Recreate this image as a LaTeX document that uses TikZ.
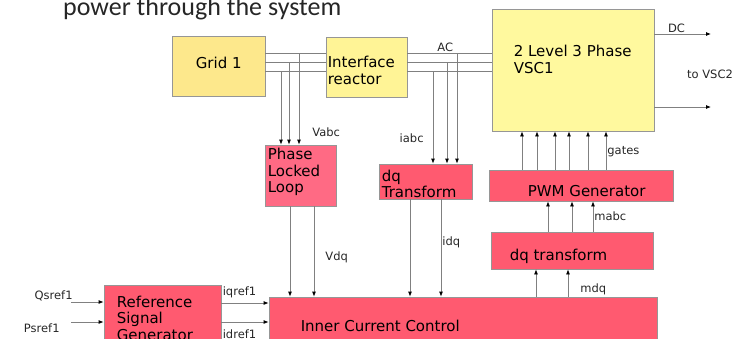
\documentclass[tikz,border=0pt]{standalone}
\usepackage{fontspec}
\setmainfont{DejaVu Sans}
\newfontfamily\titlefont{Carlito}
\usetikzlibrary{arrows.meta}

\definecolor{gridyellow}{RGB}{253,232,140}
\definecolor{reactoryellow}{RGB}{255,244,150}
\definecolor{vscyellow}{RGB}{255,249,158}
\definecolor{pllpink}{RGB}{255,106,132}
\definecolor{ctrlred}{RGB}{255,90,112}
\definecolor{wiregray}{RGB}{128,128,128}
\definecolor{edgegray}{RGB}{150,150,150}

\begin{document}
\begin{tikzpicture}[x=1pt, y=-1pt,
    block/.style={rectangle, draw=edgegray, line width=0.8pt, inner sep=0pt},
    caption/.style={font=\fontsize{15}{16.5}\selectfont, align=left, inner sep=0pt, anchor=north west},
    lbl/.style={font=\fontsize{11.5}{13}\selectfont, inner sep=1pt, text=black!85},
    wire/.style={draw=wiregray, line width=0.8pt},
    sig/.style={wire, -{Latex[length=5pt, width=4pt, color=black]}}]
    \useasboundingbox (0,0) rectangle (736,338);

    \node[font=\titlefont\fontsize{26}{30}\selectfont, anchor=base west, inner sep=0pt, text=black!85] (title) at (63,15) {power through the system};

    % power stage
    \node[block, fill=gridyellow, minimum width=93pt, minimum height=60pt,
        label={[caption, xshift=24pt, yshift=-21.3pt]north west:Grid 1}] (grid) at (218.5,66) {};
    \node[block, fill=reactoryellow, minimum width=81pt, minimum height=60pt,
        label={[caption, xshift=2pt, yshift=-19.5pt]north west:Interface\\reactor}] (iface) at (366.5,67) {};
    \node[block, fill=vscyellow, minimum width=162pt, minimum height=122pt,
        label={[caption, xshift=22pt, yshift=-36.7pt]north west:2 Level 3 Phase\\VSC1}] (vsc) at (573,70) {};

    % control stage
    \node[block, fill=pllpink, minimum width=71pt, minimum height=61pt,
        label={[caption, xshift=3pt, yshift=-3.3pt]north west:Phase\\Locked\\Loop}] (pll) at (300.5,175.5) {};
    \node[block, fill=ctrlred, minimum width=93pt, minimum height=35pt,
        label={[caption, xshift=3pt, yshift=-6pt]north west:dq\\Transform}] (dqt) at (425.5,181.5) {};
    \node[block, fill=ctrlred, minimum width=184pt, minimum height=31pt,
        label={[caption, xshift=39pt, yshift=-15.7pt]north west:PWM Generator}] (pwm) at (581,185.5) {};
    \node[block, fill=ctrlred, minimum width=162pt, minimum height=37pt,
        label={[caption, xshift=19pt, yshift=-17pt]north west:dq transform}] (dqtinv) at (572,250.5) {};
    \node[block, fill=ctrlred, minimum width=388pt, minimum height=58pt,
        label={[caption, xshift=32pt, yshift=-23.7pt]north west:Inner Current Control}] (icc) at (463,326) {};
    \node[block, fill=ctrlred, minimum width=117pt, minimum height=66pt,
        label={[caption, xshift=13pt, yshift=-11pt]north west:Reference\\Signal\\Generator}] (rsg) at (162.5,318) {};

    % three phase lines
    \coordinate (pa) at (0,53);
    \coordinate (pb) at (0,62);
    \coordinate (pc) at (0,71);
    \foreach \p in {pa,pb,pc} {
        \draw[wire] (grid.east |- \p) -- (iface.west |- \p);
        \draw[wire] (iface.east |- \p) -- (vsc.west |- \p);
    }
    \path (iface.east |- pa) -- node[lbl, pos=.45, above] {AC} (vsc.west |- pa);

    % measurements
    \draw[sig] (281,0 |- pc) -- (281,0 |- pll.north);
    \draw[sig] (289,0 |- pb) -- (289,0 |- pll.north);
    \draw[sig] (299,0 |- pa) -- node[lbl, pos=.87, anchor=west, xshift=12pt] {Vabc} (299,0 |- pll.north);
    \draw[sig] (433,0 |- pc) -- node[lbl, pos=.73, anchor=east, xshift=-8pt] {iabc} (433,0 |- dqt.north);
    \draw[sig] (447,0 |- pb) -- (447,0 |- dqt.north);
    \draw[sig] (457,0 |- pa) -- (457,0 |- dqt.north);

    % dc side
    \coordinate (dcpos) at (711,34);
    \coordinate (dcneg) at (711,107);
    \draw[sig] (vsc.east |- dcpos) -- node[lbl, pos=.39, above] {DC} (dcpos);
    \draw[sig] (vsc.east |- dcneg) -- (dcneg);
    \node[lbl] (tovsc) at (710,74) {to VSC2};

    % control signals
    \draw[sig] (290,0 |- pll.south) -- (290,0 |- icc.north);
    \draw[sig] (314,0 |- pll.south) -- node[lbl, pos=.57, anchor=west, xshift=10pt] {Vdq} (314,0 |- icc.north);
    \draw[sig] (410,0 |- dqt.south) -- (410,0 |- icc.north);
    \draw[sig] (441,0 |- dqt.south) -- node[lbl, pos=.44, anchor=west] {idq} (441,0 |- icc.north);
    \draw[sig] (536,0 |- icc.north) -- (536,0 |- dqtinv.south);
    \draw[sig] (568,0 |- icc.north) -- node[lbl, pos=.25, anchor=west, xshift=11pt] {mdq} (568,0 |- dqtinv.south);
    \foreach \x in {548,572}
        \draw[sig] (\x,0 |- dqtinv.north) -- (\x,0 |- pwm.south);
    \draw[sig] (593,0 |- dqtinv.north) -- node[lbl, pos=.5, anchor=west] {mabc} (593,0 |- pwm.south);
    \foreach \x in {522,537,555,569,588}
        \draw[sig] (\x,0 |- pwm.north) -- (\x,0 |- vsc.south);
    \draw[sig] (606,0 |- pwm.north) -- node[lbl, pos=.46, anchor=west] {gates} (606,0 |- vsc.south);

    % references
    \coordinate (qs) at (71,302);
    \coordinate (ps) at (71,322);
    \coordinate (iq) at (0,303);
    \coordinate (id) at (0,322);
    \draw[sig] (qs) -- node[lbl, at start, anchor=south east, xshift=3pt] {Qsref1} (rsg.west |- qs);
    \draw[sig] (ps) -- node[lbl, at start, anchor=north east, xshift=-10pt] {Psref1} (rsg.west |- ps);
    \draw[sig] (rsg.east |- iq) -- node[lbl, at start, anchor=south west, yshift=4pt] {iqref1} (icc.west |- iq);
    \draw[sig] (rsg.east |- id) -- node[lbl, at start, anchor=north west, yshift=-6pt] {idref1} (icc.west |- id);
\end{tikzpicture}
\end{document}
